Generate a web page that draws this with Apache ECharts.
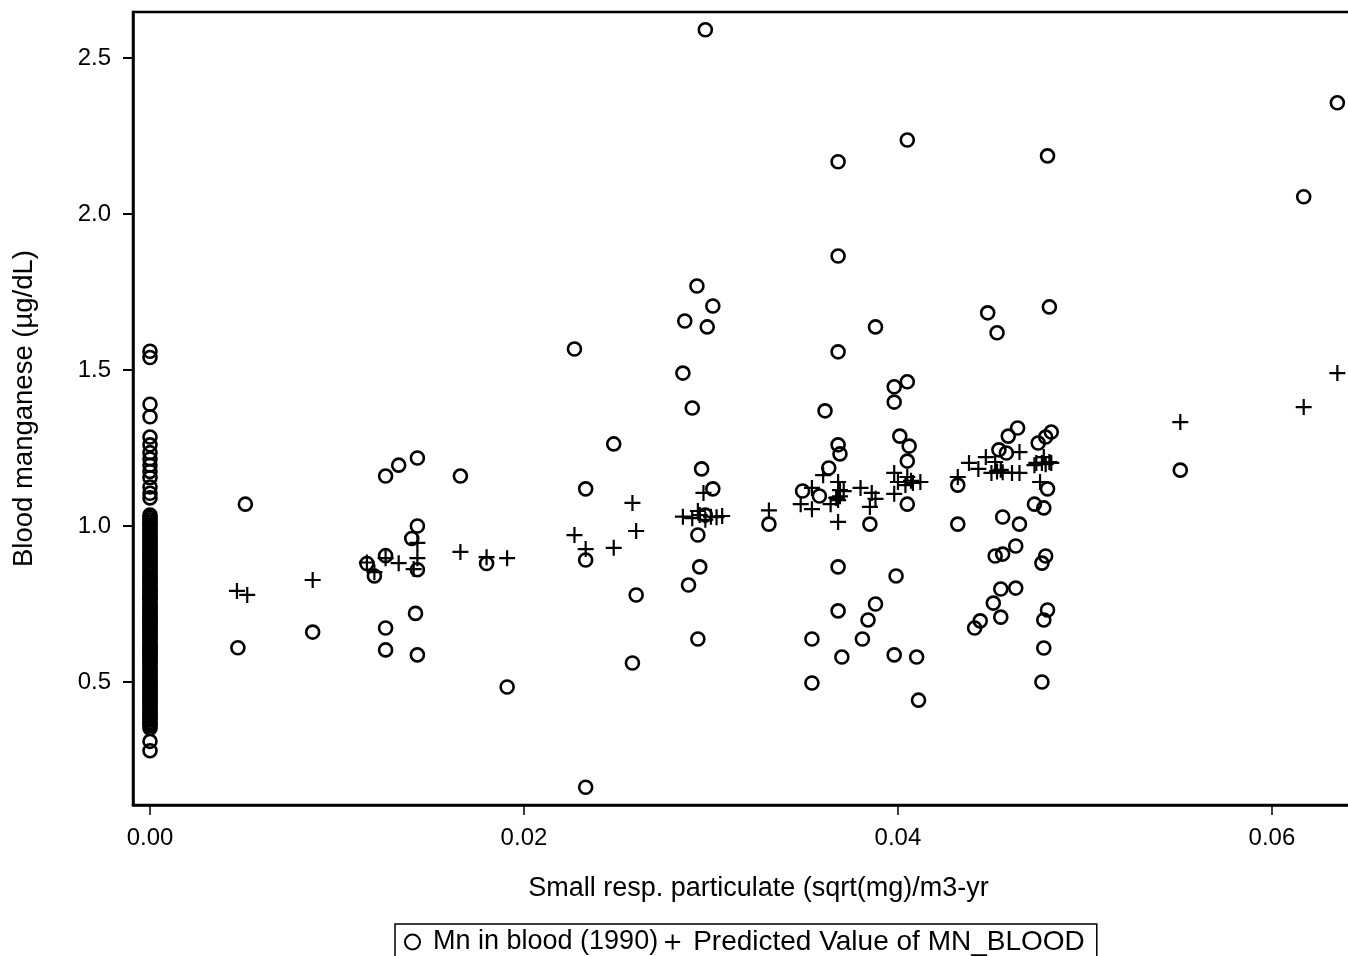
<!DOCTYPE html>
<html>
<head>
<meta charset="utf-8">
<script src="https://cdn.jsdelivr.net/npm/echarts@6/dist/echarts.min.js"></script>
<style>
html,body{margin:0;padding:0;background:#fff;overflow:hidden;}
#chart{width:1348px;height:956px;}
</style>
</head>
<body>
<div id="chart"></div>
<script>
// ---- data ----
const xTicks = [0, 0.02, 0.04, 0.06];
const yTicks = [0.5, 1.0, 1.5, 2.0, 2.5];

// observed Mn in blood for unexposed workers (x = 0)
const zeroColumn = [1.56, 1.54, 1.39, 1.35, 1.285, 1.26, 1.235, 1.215, 1.195, 1.175, 1.155, 1.125, 1.105, 1.09,
  1.035, 1.028, 1.02, 1.013, 1.005, 0.998, 0.99, 0.982, 0.975, 0.968, 0.962, 0.955, 0.948, 0.941, 0.935, 0.928,
  0.92, 0.914, 0.908, 0.901, 0.895, 0.888, 0.88, 0.874, 0.868, 0.861, 0.855, 0.848, 0.84, 0.834, 0.828, 0.821,
  0.815, 0.808, 0.80, 0.795, 0.79, 0.784, 0.778, 0.771, 0.765, 0.758, 0.75, 0.744, 0.738, 0.731, 0.725, 0.718,
  0.712, 0.706, 0.70, 0.694, 0.688, 0.681, 0.675, 0.668, 0.662, 0.656, 0.65, 0.643, 0.636, 0.629, 0.622, 0.616,
  0.61, 0.604, 0.598, 0.591, 0.585, 0.578, 0.572, 0.566, 0.56, 0.552, 0.545, 0.538, 0.532, 0.526, 0.52, 0.512,
  0.505, 0.498, 0.492, 0.486, 0.48, 0.473, 0.466, 0.459, 0.452, 0.446, 0.44, 0.433, 0.426, 0.419, 0.412, 0.406,
  0.40, 0.393, 0.386, 0.379, 0.372, 0.366, 0.36, 0.352, 0.31, 0.28];

// observed Mn in blood for exposed workers [x, y]
const mnExposed = [
  [0.0051, 1.07], [0.0047, 0.61], [0.0087, 0.66], [0.0126, 1.16], [0.0133, 1.195], [0.0143, 1.218],
  [0.0166, 1.16], [0.0143, 1.00], [0.0140, 0.96], [0.0116, 0.88], [0.0126, 0.905], [0.0120, 0.84],
  [0.0143, 0.86], [0.0142, 0.72], [0.0126, 0.673], [0.0126, 0.603], [0.0143, 0.587], [0.0180, 0.88],
  [0.0191, 0.484],
  [0.0227, 1.567], [0.0248, 1.263], [0.0233, 1.119], [0.0233, 0.891], [0.0260, 0.779], [0.0258, 0.561],
  [0.0233, 0.163], [0.0297, 2.59], [0.02925, 1.769], [0.0301, 1.705], [0.0286, 1.657], [0.0298, 1.638],
  [0.0285, 1.49], [0.0290, 1.378], [0.0295, 1.183], [0.0301, 1.119], [0.0293, 0.971], [0.0294, 0.869],
  [0.0288, 0.811], [0.0293, 0.638], [0.0297, 1.035], [0.0331, 1.006],
  [0.0349, 1.112], [0.0358, 1.096], [0.0363, 1.186], [0.0361, 1.369], [0.0368, 1.26], [0.0369, 1.231],
  [0.0368, 1.558], [0.0368, 1.865], [0.0368, 2.167], [0.0388, 1.638], [0.0385, 1.006], [0.0368, 0.869],
  [0.0368, 0.728], [0.0388, 0.75], [0.0384, 0.699], [0.0354, 0.638], [0.0381, 0.638], [0.0370, 0.58],
  [0.0354, 0.497], [0.0405, 1.462], [0.0398, 1.446], [0.0398, 1.397], [0.0401, 1.288], [0.0406, 1.256],
  [0.0405, 1.208], [0.0405, 1.07], [0.0399, 0.84], [0.0398, 0.587], [0.0410, 0.58], [0.0411, 0.442],
  [0.0405, 2.237],
  [0.0432, 1.131], [0.0432, 1.006], [0.0448, 1.683], [0.0453, 1.619], [0.0464, 1.314], [0.0459, 1.288],
  [0.0454, 1.244], [0.0458, 1.234], [0.0456, 1.029], [0.0465, 1.006], [0.0463, 0.936], [0.0452, 0.904],
  [0.0456, 0.91], [0.0455, 0.798], [0.0463, 0.801], [0.0451, 0.753], [0.0455, 0.708], [0.0444, 0.696],
  [0.0441, 0.673], [0.0481, 1.702], [0.0480, 2.186], [0.0482, 1.301], [0.0479, 1.285], [0.0475, 1.266],
  [0.0480, 1.119], [0.0473, 1.07], [0.0478, 1.058], [0.0479, 0.904], [0.0477, 0.881], [0.0480, 0.731],
  [0.0478, 0.699], [0.0478, 0.609], [0.0477, 0.50],
  [0.0551, 1.179], [0.0617, 2.055], [0.0635, 2.356]
];

// predicted values [x, y]
const predicted = [
  [0, 0.77], [0.00465, 0.792], [0.0052, 0.779], [0.0087, 0.827], [0.0116, 0.883], [0.0120, 0.852],
  [0.0126, 0.897], [0.0133, 0.881], [0.0143, 0.946], [0.0143, 0.897], [0.0141, 0.862], [0.0166, 0.917],
  [0.0180, 0.90], [0.0191, 0.897],
  [0.0227, 0.971], [0.0233, 0.926], [0.0248, 0.93], [0.0258, 1.074], [0.0260, 0.984], [0.0296, 1.106],
  [0.0285, 1.03], [0.0290, 1.025], [0.0294, 1.035], [0.0297, 1.02], [0.0300, 1.03], [0.0303, 1.028],
  [0.0306, 1.032], [0.0293, 1.048], [0.0331, 1.05],
  [0.0348, 1.07], [0.0354, 1.054], [0.0354, 1.122], [0.0360, 1.163], [0.0364, 1.07], [0.0368, 1.141],
  [0.0369, 1.115], [0.0371, 1.112], [0.0368, 1.083], [0.0367, 1.09], [0.0369, 1.095], [0.0368, 1.013],
  [0.0380, 1.122], [0.0386, 1.106], [0.0388, 1.087], [0.0385, 1.061], [0.0398, 1.17], [0.0400, 1.141],
  [0.0398, 1.103], [0.0405, 1.157], [0.0412, 1.141], [0.0408, 1.138], [0.0404, 1.131], [0.0407, 1.145],
  [0.0432, 1.157], [0.0438, 1.202], [0.0443, 1.183], [0.0447, 1.221], [0.0452, 1.205], [0.0455, 1.18],
  [0.0453, 1.175], [0.0456, 1.172], [0.0450, 1.17], [0.0461, 1.17], [0.0465, 1.17], [0.0465, 1.237],
  [0.0474, 1.202], [0.0477, 1.202], [0.0479, 1.198], [0.0481, 1.205], [0.0482, 1.202], [0.0478, 1.221],
  [0.0476, 1.141], [0.0473, 1.195],
  [0.0551, 1.333], [0.0617, 1.381], [0.0635, 1.49]
];

const mnSeriesName = 'Mn in blood (1990)';
const predSeriesName = 'Predicted Value of MN_BLOOD';

// ---- chart ----
const mnData = zeroColumn.map(v => [0, v]).concat(mnExposed);
const plusPath = 'path://M8,0L8,16M0,8L16,8';
const FONT = '"Liberation Sans", Arial, Helvetica, sans-serif';

const chart = echarts.init(document.getElementById('chart'), null, {renderer: 'canvas'});
chart.setOption({
  animation: false,
  backgroundColor: '#fff',
  grid: {
    left: 133, top: 12, width: 1221, bottom: 151,
    outerBoundsMode: 'none', containLabel: false,
    show: true, borderColor: '#000', borderWidth: 2.5, backgroundColor: 'transparent'
  },
  xAxis: {
    type: 'value',
    min: -0.000909, max: 0.06439,
    name: 'Small resp. particulate (sqrt(mg)/m3-yr',
    nameLocation: 'middle', nameGap: 70,
    nameTextStyle: {fontSize: 27, color: '#000', fontFamily: FONT, padding: [0, 0, 0, 30]},
    axisLine: {show: true, onZero: false, lineStyle: {color: '#000', width: 2.5}},
    axisTick: {show: true, length: 10, lineStyle: {color: '#000', width: 1.5}, customValues: xTicks},
    axisLabel: {fontSize: 24, color: '#000', margin: 21, fontFamily: FONT, customValues: xTicks,
      formatter: v => v.toFixed(2)},
    splitLine: {show: false}
  },
  yAxis: {
    type: 'value',
    min: 0.106, max: 2.647,
    name: 'Blood manganese (µg/dL)',
    nameLocation: 'middle', nameGap: 95,
    nameTextStyle: {fontSize: 27.5, color: '#000', fontFamily: FONT},
    axisLine: {show: true, onZero: false, lineStyle: {color: '#000', width: 2.5}},
    axisTick: {show: true, length: 10, lineStyle: {color: '#000', width: 2}, customValues: yTicks},
    axisLabel: {fontSize: 24, color: '#000', margin: 22, fontFamily: FONT, customValues: yTicks,
      formatter: v => v.toFixed(1)},
    splitLine: {show: false}
  },
  legend: {
    left: 395, top: 924,
    orient: 'horizontal',
    borderColor: '#000', borderWidth: 1.5,
    padding: [4, 12, 8, 9],
    itemGap: 6, itemWidth: 15, itemHeight: 15,
    textStyle: {fontSize: 27, color: '#000', fontFamily: FONT, padding: [0, 0, 0, 8]},
    data: [
      {name: mnSeriesName, icon: 'circle'},
      {name: predSeriesName, icon: plusPath, textStyle: {fontSize: 28}}
    ]
  },
  series: [
    {
      name: mnSeriesName,
      type: 'scatter',
      symbol: 'circle',
      symbolSize: 13,
      data: mnData,
      itemStyle: {color: 'rgba(0,0,0,0)', borderColor: '#000', borderWidth: 2.6, opacity: 1},
      emphasis: {disabled: true}
    },
    {
      name: predSeriesName,
      type: 'scatter',
      symbol: plusPath,
      symbolSize: 16,
      data: predicted,
      itemStyle: {color: 'rgba(0,0,0,0)', borderColor: '#000', borderWidth: 2.2, opacity: 1},
      emphasis: {disabled: true}
    }
  ]
});
</script>
</body>
</html>
